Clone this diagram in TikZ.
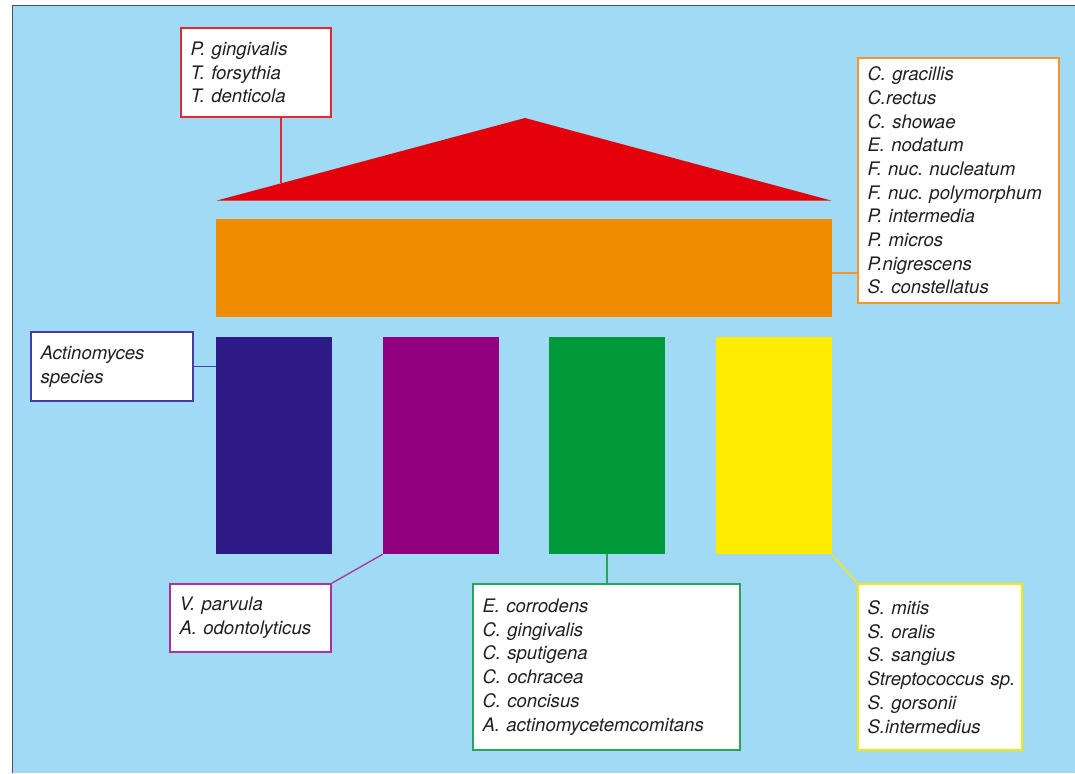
\documentclass[tikz,border=0pt]{standalone}
\usepackage{fontspec}
\setmainfont[WordSpace=0.8]{TeX Gyre Heros}
\usetikzlibrary{calc}
\definecolor{bgblue}{RGB}{160,218,245}
\definecolor{frame}{RGB}{70,82,94}
\definecolor{roofred}{RGB}{227,0,11}
\definecolor{beamorange}{RGB}{240,140,0}
\definecolor{colnavy}{RGB}{46,26,135}
\definecolor{colpurple}{RGB}{147,0,127}
\definecolor{colgreen}{RGB}{0,154,58}
\definecolor{colyellow}{RGB}{255,236,0}
\definecolor{txt}{RGB}{35,31,32}
\definecolor{bred}{RGB}{226,40,50}
\definecolor{borange}{RGB}{242,150,40}
\definecolor{bnavy}{RGB}{70,60,165}
\definecolor{bpurple}{RGB}{170,50,155}
\definecolor{bgreen}{RGB}{40,165,85}
\definecolor{byellow}{RGB}{250,232,0}
\tikzset{
  labelbox/.style={draw=#1, fill=white, line width=1.5pt, rectangle,
    inner xsep=9.5pt, inner ysep=0pt, align=left, text=txt,
    font=\fontsize{18.6}{23.7}\selectfont\itshape\frenchspacing},
  link/.style={draw=#1, line width=1.3pt},
  pillar/.style={fill=#1, draw=none, minimum width=116pt, minimum height=217pt, inner sep=0pt}
}
\begin{document}
\begin{tikzpicture}[x=1pt,y=-1pt]
\useasboundingbox (0,0) rectangle (1075,773);
\fill[white] (0,0) rectangle (1075,773);
\fill[bgblue] (13,6) rectangle (1075,773);
\draw[frame, line width=1.6pt] (12.5,773) -- (12.5,5.5) -- (1075,5.5);

% temple
\coordinate (roofL) at (217,200.5);
\coordinate (roofR) at (831,200.5);
\coordinate (apex) at (525,118);
\fill[roofred] (roofL) -- (apex) -- (roofR) -- cycle;
\node[fill=beamorange, minimum width=616pt, minimum height=98pt, inner sep=0pt] (beam) at (524,268) {};
\node[pillar=colnavy] (navy) at (274,445.5) {};
\node[pillar=colpurple] (purple) at (441,445.5) {};
\node[pillar=colgreen] (green) at (607,445.5) {};
\node[pillar=colyellow] (yellow) at (773.5,445.5) {};

% label boxes
\node[labelbox=bred, minimum width=150pt, minimum height=89pt, text width=131pt] (rbox) at (256,72.5)
  {P. gingivalis\\T. forsythia\\T. denticola};
\node[labelbox=borange, minimum width=201pt, minimum height=245pt, text width=182pt] (obox) at (958.5,180.5)
  {C. gracillis\\C.rectus\\C. showae\\E. nodatum\\F. nuc. nucleatum\\\mbox{F. nuc. polymorphum}\\P. intermedia\\P. micros\\P.nigrescens\\S. constellatus};
\node[labelbox=bnavy, minimum width=162pt, minimum height=69pt, text width=143pt] (abox) at (112,366.5)
  {Actinomyces\\species};
\node[labelbox=bpurple, minimum width=161pt, minimum height=68pt, text width=142pt] (pbox) at (250.5,618)
  {V. parvula\\A. odontolyticus};
\node[labelbox=bgreen, minimum width=267pt, minimum height=166pt, text width=248pt] (gbox) at (606.5,667)
  {E. corrodens\\C. gingivalis\\C. sputigena\\C. ochracea\\C. concisus\\\mbox{A. actinomycetemcomitans}};
\node[labelbox=byellow, minimum width=164pt, minimum height=166pt, text width=145pt] (ybox) at (940,667)
  {S. mitis\\S. oralis\\S. sangius\\\mbox{Streptococcus sp.}\\S. gorsonii\\S.intermedius};

% connectors
\coordinate (rt) at ($(roofL)!0.2078!(apex)$);
\draw[link=bred] (rbox.south -| rt) -- (rt);
\coordinate (oy) at (0,273);
\draw[link=borange] (beam.east |- oy) -- (obox.west |- oy);
\draw[link=bnavy] (abox.east) -- (abox.east -| navy.west);
\draw[link=bpurple] (pbox.north east) -- (purple.south west);
\draw[link=bgreen] (green.south) -- (gbox.north -| green.south);
\draw[link=byellow] (yellow.south east) -- (ybox.north west);
\end{tikzpicture}
\end{document}
